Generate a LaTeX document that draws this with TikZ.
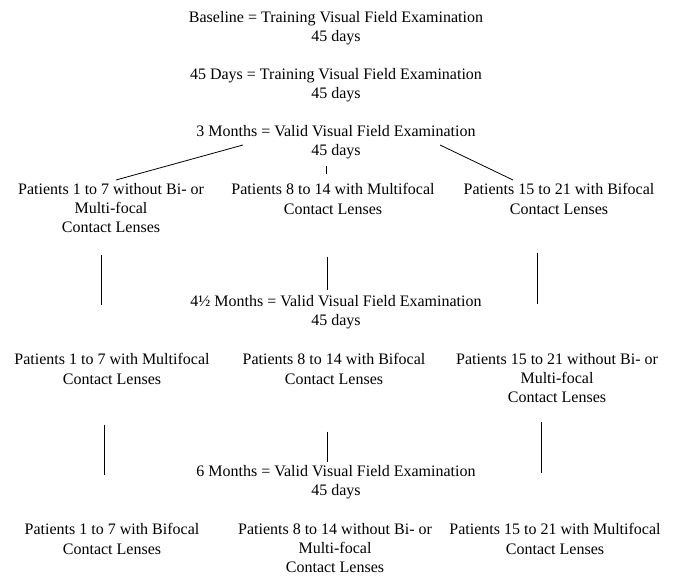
\documentclass[tikz,border=0pt]{standalone}
\usepackage{fontspec}
\setmainfont{Liberation Serif}
\usepackage{tikz}
\usetikzlibrary{positioning}
\tikzset{
  visit/.style={align=center, inner sep=0pt, font=\fontsize{12}{14.4}\selectfont},
  group/.style={align=center, inner sep=0pt, font=\fontsize{12}{14.4}\selectfont},
  link/.style={draw, line width=0.6pt}
}

\begin{document}
\begin{tikzpicture}[x=0.75pt, y=-0.75pt]
  \useasboundingbox (0,0) rectangle (673,577);
  % examinations
  \node[visit] (base) at (336,28) {Baseline = Training Visual Field Examination\\45 days};
  \node[visit] (d45) at (336,85) {45 Days = Training Visual Field Examination\\45 days};
  \node[visit] (m3) at (336,142) {3 Months = Valid Visual Field Examination\\45 days};
  \node[visit] (m4) at (336,312) {4\textonehalf{} Months = Valid Visual Field Examination\\45 days};
  \node[visit] (m6) at (336,482) {6 Months = Valid Visual Field Examination\\45 days};
  % first period
  \node[group] (p1a) at (111,208) {Patients 1 to 7 without Bi- or\\Multi-focal\\Contact Lenses};
  \node[group] (p1b) at (333,199) {Patients 8 to 14 with Multifocal\\Contact Lenses};
  \node[group] (p1c) at (559,199) {Patients 15 to 21 with Bifocal\\Contact Lenses};
  % second period
  \node[group] (p2a) at (112,369) {Patients 1 to 7 with Multifocal\\Contact Lenses};
  \node[group] (p2b) at (334,369) {Patients 8 to 14 with Bifocal\\Contact Lenses};
  \node[group] (p2c) at (557,378) {Patients 15 to 21 without Bi- or\\Multi-focal\\Contact Lenses};
  % third period
  \node[group] (p3a) at (112,539) {Patients 1 to 7 with Bifocal\\Contact Lenses};
  \node[group] (p3b) at (335,548) {Patients 8 to 14 without Bi- or\\Multi-focal\\Contact Lenses};
  \node[group] (p3c) at (555,539) {Patients 15 to 21 with Multifocal\\Contact Lenses};
  % split lines
  \coordinate (sl) at (243,145);
  \coordinate (sr) at (440,145);
  \draw[link] (sl) -- (116,180) coordinate (el);
  \draw[link] (sr) -- (513,180) coordinate (er);
  \draw[link] (m3.south -| 326,0) ++(0,7) -- ++(0,8);
  % vertical lines
  \draw[link] (p1a.south -| 101,0) ++(0,22) coordinate (v1a) -- (101,305) coordinate (w1a);
  \draw[link] (p1b.south -| 327,0) ++(0,42) coordinate (v1b) -- (327,290) coordinate (w1b);
  \draw[link] (p1c.south -| 537,0) ++(0,38) coordinate (v1c) -- (537,304) coordinate (w1c);
  \draw[link] (p2a.south -| 104,0) ++(0,40) coordinate (v2a) -- (104,475) coordinate (w2a);
  \draw[link] (p2b.south -| 327,0) ++(0,47) coordinate (v2b) -- (327,462) coordinate (w2b);
  \draw[link] (p2c.south -| 541,0) ++(0,19) coordinate (v2c) -- (541,473) coordinate (w2c);
\end{tikzpicture}
\end{document}
